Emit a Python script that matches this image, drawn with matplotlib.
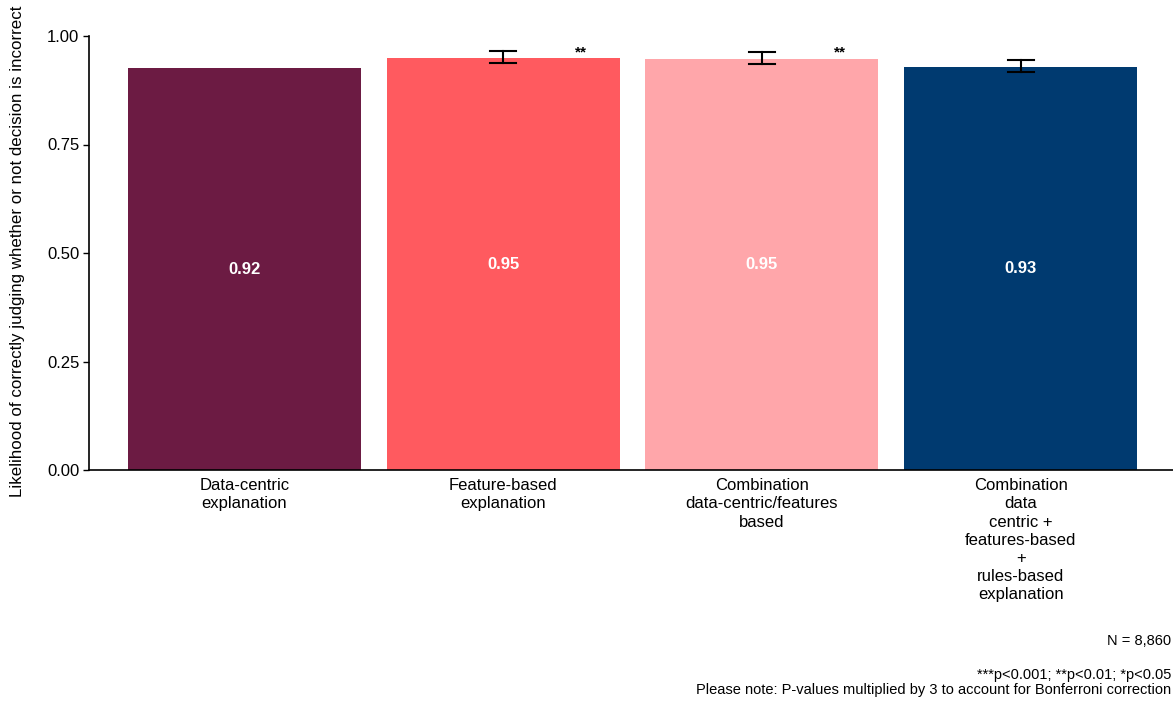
import numpy as np
import matplotlib.pyplot as plt

plt.rcParams["font.family"] = ["Liberation Sans", "DejaVu Sans"]

conditions = [
    "Data-centric\nexplanation",
    "Feature-based\nexplanation",
    "Combination\ndata-centric/features\nbased",
    "Combination\ndata\ncentric +\nfeatures-based\n+\nrules-based\nexplanation",
]
likelihood = [0.926, 0.949, 0.948, 0.929]
ci_low = [np.nan, 0.938, 0.936, 0.916]
ci_high = [np.nan, 0.965, 0.963, 0.945]
stars = ["", "**", "**", ""]
value_labels = ["0.92", "0.95", "0.95", "0.93"]
colors = ["#6C1B43", "#FF5A5F", "#FFA6AA", "#003A70"]

W, H = 1173, 702
fig = plt.figure(figsize=(W / 100, H / 100), dpi=100)
ax = fig.add_axes([89 / W, 1 - 470 / H, (1176 - 89) / W, (470 - 36) / H])

x = np.arange(len(conditions))
ax.bar(x, likelihood, width=0.9, color=colors, zorder=2)

# confidence intervals where the model gives them
for xi, lo, hi in zip(x, ci_low, ci_high):
    if np.isnan(lo):
        continue
    ax.plot([xi, xi], [lo, hi], color="black", lw=1.5, zorder=3)
    for yv in (lo, hi):
        ax.plot([xi - 0.05, xi + 0.05], [yv, yv], color="black", lw=1.5, zorder=3)

for xi, v, lab, s in zip(x, likelihood, value_labels, stars):
    ax.text(xi, v / 2, lab, ha="center", va="center", color="white",
            fontsize=12, fontweight="bold")
    if s:
        ax.text(xi + 0.3, v - 0.002, s, ha="center", va="bottom", fontsize=11,
                fontweight="bold")

ax.set_xlim(-0.6, 3.6)
ax.set_ylim(0, 1)
ax.set_yticks([0, 0.25, 0.5, 0.75, 1.0])
ax.set_yticklabels(["0.00", "0.25", "0.50", "0.75", "1.00"])
ax.set_xticks(x)
ax.set_xticklabels(conditions, fontsize=12, linespacing=1.26)
ax.tick_params(axis="y", labelsize=12, length=4, width=1, pad=3)
ax.tick_params(axis="x", length=0, pad=6)
for side in ("top", "right"):
    ax.spines[side].set_visible(False)
ax.spines["left"].set_linewidth(1.2)
ax.spines["bottom"].set_linewidth(1.2)

fig.text(18 / W, 1 - 251 / H,
         "Likelihood of correctly judging whether or not decision is incorrect",
         rotation=90, ha="center", va="center", fontsize=12.2)

fig.text(1171 / W, 1 - 641 / H, "N = 8,860", ha="right", va="center", fontsize=10.5)
fig.text(1171 / W, 1 - 675 / H, "***p<0.001; **p<0.01; *p<0.05", ha="right",
         va="center", fontsize=10.5)
fig.text(1171 / W, 1 - 690 / H,
         "Please note: P-values multiplied by 3 to account for Bonferroni correction",
         ha="right", va="center", fontsize=10.5)

fig.savefig("out.png", dpi=100)
